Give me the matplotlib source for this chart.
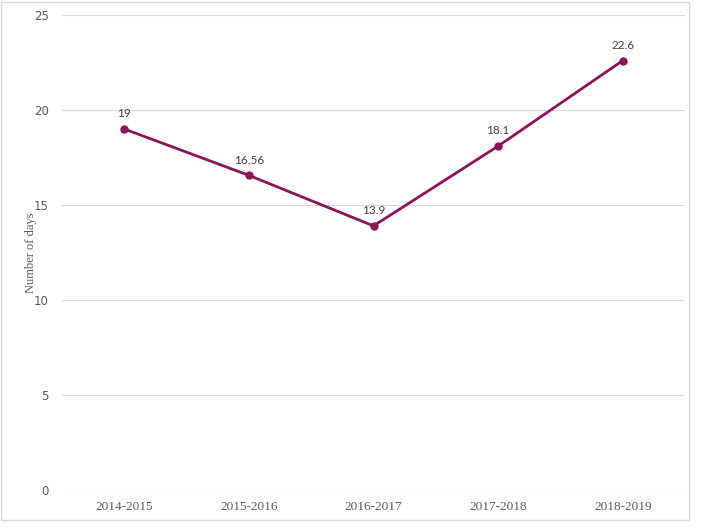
import numpy as np
import matplotlib
matplotlib.use('Agg')
import matplotlib.pyplot as plt
from matplotlib.patches import Rectangle


anios = ["2014-2015", "2015-2016", "2016-2017", "2017-2018", "2018-2019"]
dias = [19, 16.56, 13.9, 18.1, 22.6]
etiquetas = ["19", "16.56", "13.9", "18.1", "22.6"]
yticks = [0, 5, 10, 15, 20, 25]

color = '#8c1459'
gris = '#595959'

fig = plt.figure(figsize=(7.03, 5.30), dpi=100)
ax = fig.add_axes([62/703, 1-490/530, 623/703, 475/530])

# borde del area del grafico
fig.patches.append(Rectangle((1/703, 1-520/530), 688/703, 518/530,
                             transform=fig.transFigure, fill=False,
                             edgecolor='#d9d9d9', linewidth=1))

x = np.arange(len(anios))
ax.plot(x, dias, color=color, linewidth=2, marker='o', markersize=5, zorder=3)

for i in range(len(x)):
    ax.annotate(etiquetas[i], (x[i], dias[i]), xytext=(0, 7),
                textcoords='offset points', ha='center', va='bottom',
                fontsize=8.5, family='Lato', color='#404040')

ax.set_xlim(-0.5, len(anios) - 0.5)
ax.set_ylim(0, 25)
ax.set_yticks(yticks)
ax.set_xticks(x)
ax.set_xticklabels(anios, family='Liberation Serif', fontsize=9.5, color=gris)
for t in ax.get_yticklabels():
    t.set_family('DejaVu Sans')
    t.set_fontsize(8.5)
    t.set_color(gris)

ax.grid(axis='y', color='#d9d9d9', linewidth=0.8)
ax.set_axisbelow(True)
for s in ax.spines.values():
    s.set_visible(False)
ax.tick_params(axis='both', length=0)
ax.tick_params(axis='y', pad=9.5)
ax.tick_params(axis='x', pad=8)

ax.set_ylabel("Number of days", family='Liberation Serif', fontsize=9,
              color=gris, labelpad=-2)

plt.savefig("out.png", dpi=100)
